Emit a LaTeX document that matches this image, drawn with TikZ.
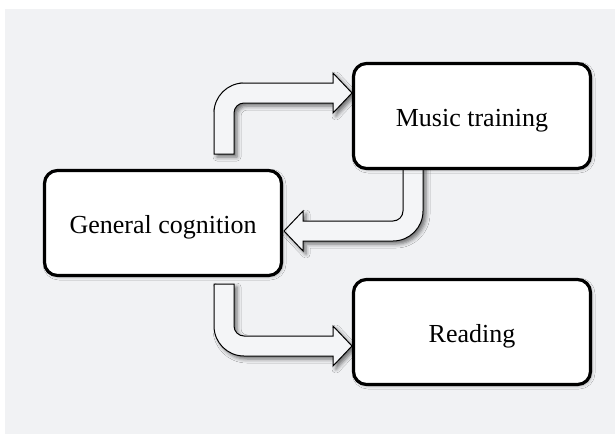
\documentclass[tikz,border=0pt]{standalone}
\usepackage{fontspec}
\setmainfont{Liberation Serif}
\usetikzlibrary{shadows.blur}
\definecolor{bggray}{HTML}{F1F2F4}
\definecolor{arrowfill}{HTML}{F4F5F7}
\tikzset{
  box/.style={draw=black, line width=3.2pt, fill=white, rounded corners=13pt,
    minimum width=237pt, minimum height=105pt, inner sep=0pt,
    text height=21pt, text depth=0pt,
    font=\fontsize{26}{30}\selectfont,
    blur shadow={shadow xshift=1.5pt, shadow yshift=-1.5pt, shadow blur radius=3pt, shadow opacity=30}},
  blockarrow/.style={draw=black, line width=1pt, fill=arrowfill, line join=miter,
    blur shadow={shadow xshift=3pt, shadow yshift=-3pt, shadow blur radius=4pt, shadow opacity=55}}
}
\begin{document}
\begin{tikzpicture}[x=1pt, y=-1pt]
  \useasboundingbox (0,0) rectangle (615,434);
  \fill[white] (0,0) rectangle (615,434);
  \fill[bggray] (5,9) rectangle (615,434);

  % top arrow: General cognition -> Music training
  \draw[blockarrow] (214,154) -- (214,113)
      .. controls (214,96.4) and (227.4,83) .. (244,83)
      -- (333,83) -- (333,73) -- (352,93) -- (333,113) -- (333,103) -- (244,103)
      .. controls (238.5,103) and (234,107.5) .. (234,113)
      -- (234,154) -- cycle;

  % middle arrow: Music training -> General cognition
  \draw[blockarrow] (403,166) -- (403,211)
      .. controls (403,216.5) and (398.5,221) .. (393,221)
      -- (303,221) -- (303,211) -- (284,231) -- (303,251) -- (303,241) -- (393,241)
      .. controls (409.6,241) and (423,227.6) .. (423,211)
      -- (423,166) -- cycle;

  % bottom arrow: General cognition -> Reading
  \draw[blockarrow] (214,284) -- (214,326)
      .. controls (214,342.6) and (227.4,356) .. (244,356)
      -- (333,356) -- (333,366) -- (352,346) -- (333,326) -- (333,336) -- (244,336)
      .. controls (238.5,336) and (234,331.5) .. (234,326)
      -- (234,284) -- cycle;

  \node[box] (gc) at (163,223) {General cognition};
  \node[box] (mt) at (472,116) {Music training};
  \node[box] (rd) at (472,332) {Reading};
\end{tikzpicture}
\end{document}
